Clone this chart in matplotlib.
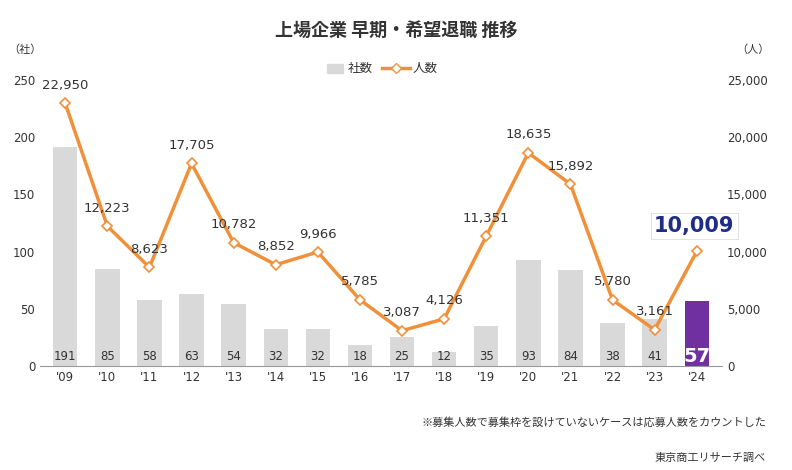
import matplotlib
matplotlib.use("Agg")
import matplotlib.pyplot as plt
from matplotlib.patches import Rectangle

plt.rcParams['font.family'] = ['DejaVu Sans', 'Noto Sans CJK JP']
JP = 'Noto Sans CJK JP'

years = ["'09","'10","'11","'12","'13","'14","'15","'16","'17","'18","'19","'20","'21","'22","'23","'24"]
companies = [191,85,58,63,54,32,32,18,25,12,35,93,84,38,41,57]
people = [22950,12223,8623,17705,10782,8852,9966,5785,3087,4126,11351,18635,15892,5780,3161,10009]

fig = plt.figure(figsize=(7.92,4.70), dpi=100)
ax = fig.add_axes([40/792, 1-366/470, (722-40)/792, (366-80)/470])
ax2 = ax.twinx()
x = list(range(len(years)))
colors = ['#d9d9d9']*(len(years)-1) + ['#7030a0']
ax.bar(x, companies, width=0.58, color=colors, zorder=1)
for i, v in enumerate(companies):
    last = i == len(years)-1
    ax.text(i, 8 if not last else 8, str(v), ha='center', va='center',
            fontsize=14 if last else 8.5, color='white' if last else '#333333',
            fontweight='bold' if last else 'normal')
ax.set_ylim(0, 250)
ax.set_yticks(range(0, 251, 50))
ax.set_xlim(-0.6, len(years)-0.4)
ax.set_xticks(x)
ax.set_xticklabels(years)
ax2.plot(x, people, color='#f0913a', lw=2.5, marker='D', ms=5,
         mfc='white', mec='#f0913a', mew=1.2, zorder=3)
ax2.set_ylim(0, 25000)
ax2.set_yticks(range(0, 25001, 5000))
ax2.set_yticklabels([f"{v:,}" for v in range(0, 25001, 5000)])
for i, v in enumerate(people):
    if i == len(years)-1:
        ax2.text(i+0.9, v+2200, f"{v:,}", ha='right', va='center', fontsize=15,
                 fontweight='bold', color='#1f2d86',
                 bbox=dict(boxstyle='square,pad=0.15', fc='white', ec='#dddddd', lw=0.6))
    else:
        ax2.text(i, v+1000, f"{v:,}", ha='center', va='bottom', fontsize=9.5, color='#333333')
for a in (ax, ax2):
    for s in a.spines.values():
        s.set_visible(False)
    a.tick_params(length=0, labelsize=8.5, colors='#333333')
ax.spines['bottom'].set_visible(True)
ax.spines['bottom'].set_color('#999999')
ax.set_zorder(0); ax2.set_zorder(1); ax2.patch.set_visible(False)

fig.text(0.5, 1-30/470, '上場企業 早期・希望退職 推移', ha='center', va='center',
         fontsize=13, fontweight='bold', color='#333333', family=JP)
fig.text(8/792, 1-50/470, '（社）', fontsize=8, va='center', color='#333333', family=JP)
fig.text(736/792, 1-50/470, '（人）', fontsize=8, va='center', color='#333333', family=JP)
fig.patches.append(Rectangle((327/792, 1-73/470), 16/792, 9/470, color='#d9d9d9', transform=fig.transFigure))
fig.text(348/792, 1-68/470, '社数', fontsize=9, va='center', color='#333333', family=JP)
fig.lines.append(plt.Line2D([382/792, 410/792], [1-68/470]*2, color='#f0913a', lw=2.5, transform=fig.transFigure))
fig.lines.append(plt.Line2D([396/792], [1-68/470], marker='D', ms=5, mfc='white', mec='#f0913a', transform=fig.transFigure))
fig.text(413/792, 1-68/470, '人数', fontsize=9, va='center', color='#333333', family=JP)
fig.text(766/792, 1-422/470, '※募集人数で募集枠を設けていないケースは応募人数をカウントした',
         ha='right', va='center', fontsize=8, color='#333333', family=JP)
fig.text(766/792, 1-458/470, '東京商工リサーチ調べ', ha='right', va='center', fontsize=8, color='#333333', family=JP)
fig.savefig('out.png', dpi=100)
